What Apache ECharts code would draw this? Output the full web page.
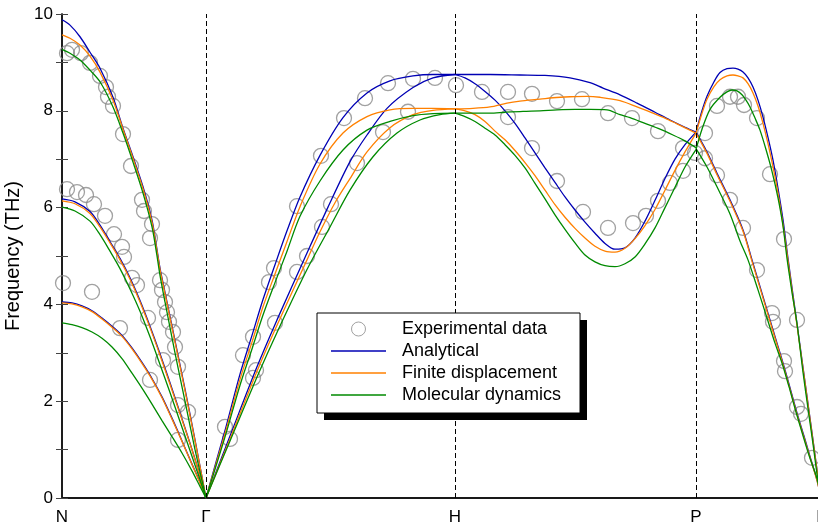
<!DOCTYPE html>
<html>
<head>
<meta charset="utf-8">
<script src="https://cdn.jsdelivr.net/npm/echarts@6/dist/echarts.min.js"></script>
<style>
  html, body { margin: 0; padding: 0; background: #fff; }
  #chart { width: 818px; height: 527px; }
</style>
</head>
<body>
<div id="chart"></div>
<script>
// path positions of the high-symmetry points and their labels
const symPoints = [0, 144, 393, 634, 759];
const symLabels = ['N', 'Γ', 'H', 'P', 'Γ'];

// experimental points [path position, THz]
const expData = [
  [5, 9.19], [10, 9.26], [19, 9.19], [28, 8.99], [38, 8.72], [44, 8.49], [46, 8.29], [51, 8.10],
  [61, 7.52], [69, 6.86], [80, 6.16], [82, 5.93], [90, 5.66], [88, 5.37],
  [5, 6.38], [15, 6.32], [24, 6.26], [32, 6.07], [43, 5.83], [52, 5.45], [60, 5.19], [62, 4.98],
  [1, 4.44], [30, 4.26], [58, 3.51], [88, 2.44], [116, 1.20], [70, 4.55], [75, 4.40], [86, 3.72],
  [101, 2.85], [116, 1.92], [126, 1.78], [98, 4.50], [100, 4.30], [103, 4.05], [105, 3.84],
  [107, 3.64], [111, 3.43], [113, 3.12], [116, 2.71],
  [163, 1.47], [168, 1.22], [181, 2.95], [191, 3.33], [191, 2.48], [194, 2.64], [207, 4.46],
  [212, 4.75], [213, 3.62], [235, 4.67], [245, 5.00], [235, 6.03], [260, 5.60], [269, 6.07],
  [259, 7.07], [282, 7.85], [295, 6.92], [321, 7.56], [346, 7.98], [303, 8.26], [326, 8.57],
  [351, 8.66], [373, 8.68], [394, 8.53],
  [420, 8.39], [446, 8.39], [470, 8.35], [495, 8.20], [520, 8.24], [446, 7.87], [470, 7.23],
  [495, 6.55], [521, 5.91], [546, 5.58], [571, 5.68], [584, 5.83], [596, 6.14], [608, 6.51],
  [621, 6.76], [546, 7.95], [570, 7.85], [596, 7.58], [621, 7.23],
  [633, 7.13], [643, 7.54], [643, 7.02], [655, 6.67], [668, 6.16], [681, 5.58], [655, 8.10],
  [668, 8.29], [676, 8.29], [682, 8.12], [695, 7.85], [708, 6.69], [722, 5.35], [695, 4.71],
  [710, 3.82], [711, 3.64], [722, 2.83], [723, 2.62], [735, 1.88], [739, 1.74], [750, 0.83], [735, 3.68]
];

// Analytical branches per segment
const anaNG = [
  [[0,9.88],[8,9.77],[18,9.53],[28,9.21],[38,8.88],[51,8.28],[61,7.64],[71,7.05],[81,6.43],[90,5.74],[95,5.13],[98,4.75],[103,4.25],[113,3.25],[123,2.25],[133,1.20],[144,0]],
  [[0,6.18],[13,6.12],[28,5.92],[38,5.64],[48,5.30],[58,4.95],[68,4.55],[78,4.08],[88,3.55],[98,2.98],[108,2.38],[118,1.76],[128,1.13],[136,0.60],[144,0]],
  [[0,4.05],[10,4.03],[20,3.97],[30,3.87],[40,3.72],[50,3.55],[60,3.36],[70,3.10],[80,2.80],[90,2.47],[100,2.09],[110,1.65],[120,1.18],[130,0.70],[138,0.32],[144,0]]
];
const anaGH = [
  [[144,0],[154,0.74],[164,1.47],[178,2.56],[190,3.36],[201,4.10],[213,4.82],[225,5.52],[238,6.22],[258,7.08],[281,7.86],[305,8.37],[328,8.62],[351,8.72],[371,8.75],[393,8.75]],
  [[144,0],[168,1.28],[195,2.71],[215,3.68],[245,5.06],[266,6.01],[288,6.95],[305,7.50],[325,8.05],[351,8.48],[371,8.68],[393,8.75]]
];
const anaHP = [
  [[393,8.75],[428,8.75],[458,8.74],[483,8.73],[508,8.68],[528,8.58],[541,8.47],[558,8.33],[575,8.16],[593,7.97],[608,7.81],[623,7.66],[634,7.56]],
  [[393,8.75],[403,8.68],[413,8.56],[423,8.40],[433,8.22],[443,8.00],[453,7.74],[463,7.44],[473,7.13],[483,6.82],[493,6.52],[503,6.22],[513,5.95],[523,5.70],[533,5.47],[543,5.26],[553,5.14],[563,5.17],[573,5.37],[583,5.72],[593,6.15],[603,6.60],[613,7.00],[623,7.30],[634,7.56]]
];
const anaPG = [
  [[634,7.56],[640,8.00],[645,8.30],[652,8.60],[658,8.79],[665,8.87],[671,8.88],[676,8.86],[681,8.80],[686,8.68],[691,8.49],[696,8.22],[701,7.87],[706,7.45],[711,6.98],[716,6.40],[721,5.75],[726,4.95],[731,4.20],[736,3.45],[741,2.70],[746,1.95],[751,1.20],[755,0.58],[759,0]],
  [[634,7.56],[645,7.15],[655,6.71],[668,6.16],[681,5.54],[690,4.92],[699,4.30],[708,3.68],[715,3.20],[721,2.79],[728,2.28],[735,1.76],[742,1.28],[748,0.86],[755,0.37],[759,0]]
];

// Finite displacement branches per segment
const finNG = [
  [[0,9.57],[8,9.50],[18,9.36],[28,9.13],[38,8.80],[51,8.22],[61,7.62],[71,7.02],[81,6.39],[90,5.70],[95,5.10],[98,4.72],[103,4.22],[113,3.22],[123,2.22],[133,1.18],[144,0]],
  [[0,6.14],[13,6.08],[28,5.88],[38,5.60],[48,5.27],[58,4.92],[68,4.52],[78,4.05],[88,3.52],[98,2.95],[108,2.35],[118,1.74],[128,1.12],[136,0.59],[144,0]],
  [[0,4.03],[10,4.01],[20,3.95],[30,3.85],[40,3.70],[50,3.53],[60,3.34],[70,3.08],[80,2.78],[90,2.45],[100,2.07],[110,1.63],[120,1.17],[130,0.69],[138,0.31],[144,0]]
];
const finGH = [
  [[144,0],[154,0.70],[164,1.40],[178,2.45],[190,3.22],[201,3.95],[213,4.63],[225,5.30],[238,6.02],[258,6.90],[281,7.54],[305,7.88],[328,8.02],[351,8.05],[371,8.05],[393,8.04]],
  [[144,0],[168,1.22],[195,2.62],[215,3.57],[245,4.92],[258,5.50],[273,6.10],[288,6.60],[305,7.15],[328,7.65],[351,7.92],[371,8.01],[393,8.04]]
];
const finHP = [
  [[393,8.04],[411,8.05],[428,8.08],[445,8.16],[458,8.20],[478,8.24],[491,8.27],[508,8.29],[525,8.30],[538,8.28],[558,8.21],[575,8.08],[591,7.95],[603,7.85],[615,7.73],[634,7.54]],
  [[393,8.04],[403,8.00],[413,7.92],[423,7.78],[433,7.58],[443,7.40],[453,7.18],[463,6.93],[473,6.66],[483,6.36],[493,6.06],[503,5.80],[513,5.57],[523,5.37],[533,5.20],[543,5.10],[553,5.08],[563,5.16],[573,5.36],[583,5.63],[593,5.96],[603,6.36],[613,6.77],[623,7.15],[634,7.54]]
];
const finPG = [
  [[634,7.54],[640,7.95],[645,8.24],[652,8.50],[658,8.64],[665,8.72],[671,8.74],[676,8.72],[681,8.68],[686,8.56],[691,8.37],[696,8.10],[701,7.74],[706,7.32],[711,6.84],[716,6.30],[721,5.65],[726,4.90],[731,4.15],[736,3.42],[741,2.68],[746,1.93],[751,1.18],[755,0.57],[759,0]],
  [[634,7.54],[645,7.12],[655,6.68],[668,6.13],[681,5.51],[690,4.89],[699,4.27],[708,3.65],[715,3.17],[721,2.76],[728,2.25],[735,1.73],[742,1.25],[748,0.84],[755,0.36],[759,0]]
];

// Molecular dynamics branches per segment
const mdNG = [
  [[0,9.27],[8,9.19],[18,9.05],[28,8.84],[38,8.60],[51,8.08],[61,7.54],[71,6.94],[81,6.30],[90,5.60],[95,5.00],[98,4.60],[103,4.05],[113,3.00],[123,2.00],[133,1.00],[144,0]],
  [[0,6.01],[13,5.93],[28,5.72],[38,5.44],[48,5.10],[58,4.74],[68,4.32],[78,3.86],[88,3.33],[98,2.76],[108,2.18],[118,1.58],[128,0.98],[136,0.50],[144,0]],
  [[0,3.62],[10,3.58],[20,3.52],[30,3.43],[40,3.30],[50,3.12],[60,2.88],[70,2.58],[80,2.27],[90,1.94],[100,1.60],[110,1.27],[120,0.93],[130,0.56],[138,0.24],[144,0]]
];
const mdGH = [
  [[144,0],[154,0.66],[164,1.33],[178,2.33],[190,3.08],[201,3.78],[213,4.45],[225,5.10],[238,5.82],[258,6.55],[281,7.19],[305,7.60],[328,7.78],[351,7.90],[371,7.94],[393,7.95]],
  [[144,0],[168,1.18],[195,2.50],[215,3.42],[245,4.72],[268,5.60],[288,6.36],[311,7.05],[335,7.54],[358,7.81],[378,7.92],[393,7.95]]
];
const mdHP = [
  [[393,7.95],[413,7.95],[428,7.95],[443,7.97],[461,7.99],[478,8.00],[495,8.02],[513,8.03],[528,8.03],[545,8.02],[558,7.92],[568,7.86],[583,7.74],[598,7.62],[611,7.50],[621,7.40],[634,7.24]],
  [[393,7.95],[403,7.88],[413,7.78],[423,7.64],[433,7.50],[443,7.30],[453,7.08],[463,6.82],[473,6.50],[483,6.18],[493,5.85],[503,5.55],[513,5.27],[523,5.02],[533,4.88],[543,4.80],[553,4.78],[563,4.84],[573,4.98],[583,5.25],[593,5.58],[603,6.00],[613,6.42],[623,6.84],[634,7.20]]
];
const mdPG = [
  [[634,7.20],[640,7.62],[648,8.03],[658,8.28],[665,8.39],[670,8.43],[675,8.41],[680,8.33],[684,8.22],[688,8.08],[693,7.85],[698,7.60],[704,7.20],[710,6.75],[716,6.20],[721,5.62],[725,4.95],[730,4.25],[735,3.60],[741,2.60],[746,1.85],[751,1.12],[755,0.50],[759,0]],
  [[634,7.22],[645,6.84],[655,6.43],[668,5.87],[678,5.31],[686,4.92],[696,4.30],[705,3.72],[713,3.20],[720,2.79],[727,2.30],[733,1.85],[742,1.22],[748,0.82],[755,0.40],[759,0]]
];

const font = 'Liberation Sans, Arial, Helvetica, sans-serif';
const chart = echarts.init(document.getElementById('chart'));

const methods = [
  { name: 'Analytical', color: '#0000b4', parts: [anaNG, anaGH, anaHP, anaPG] },
  { name: 'Finite displacement', color: '#ff8000', parts: [finNG, finGH, finHP, finPG] },
  { name: 'Molecular dynamics', color: '#008a00', parts: [mdNG, mdGH, mdHP, mdPG] }
];

const series = [{
  name: 'Experimental data',
  type: 'scatter',
  data: expData,
  symbol: 'circle',
  symbolSize: 15,
  itemStyle: { color: 'rgba(0,0,0,0)', borderColor: '#8a8a8a', borderWidth: 1.3 },
  emphasis: { disabled: true },
  z: 2,
  markLine: {
    silent: true,
    symbol: ['none', 'none'],
    label: { show: false },
    lineStyle: { color: '#000', type: [5, 3], width: 1 },
    data: symPoints.slice(1, 4).map((x) => ({ xAxis: x }))
  }
}];

methods.forEach((m) => {
  m.parts.forEach((segment) => {
    segment.forEach((branch) => {
      series.push({
        name: m.name,
        type: 'line',
        data: branch,
        smooth: 0.3,
        symbol: 'none',
        color: m.color,
        lineStyle: { color: m.color, width: 1.3 },
        emphasis: { disabled: true },
        z: 3
      });
    });
  });
});

// thin line icon for the line entries of the legend
const lineIcon = 'path://M0,0 L55,0 L55,1.3 L0,1.3 Z';

const option = {
  animation: false,
  backgroundColor: '#fff',
  textStyle: { fontFamily: font },
  grid: { left: 62, top: 14, width: 759, height: 484, outerBoundsMode: 'none', containLabel: false },
  legend: {
    orient: 'vertical',
    left: 331,
    top: 319,
    padding: 0,
    itemWidth: 55,
    itemHeight: 14,
    itemGap: 2,
    selectedMode: false,
    z: 100,
    data: [
      { name: 'Experimental data', icon: 'circle', itemStyle: { color: 'rgba(0,0,0,0)', borderColor: '#8a8a8a', borderWidth: 1 } },
      { name: 'Analytical', icon: lineIcon },
      { name: 'Finite displacement', icon: lineIcon },
      { name: 'Molecular dynamics', icon: lineIcon }
    ],
    textStyle: { fontSize: 18, fontFamily: font, color: '#000', lineHeight: 20, padding: [0, 0, 0, 11] }
  },
  graphic: [
    { type: 'rect', z: 50, shape: { x: 324, y: 320, width: 263, height: 100 }, style: { fill: '#000' } },
    { type: 'rect', z: 51, shape: { x: 317, y: 313, width: 263, height: 100 }, style: { fill: '#fff', stroke: '#000', lineWidth: 1 } }
  ],
  xAxis: [{
    type: 'value',
    min: 0,
    max: 759,
    position: 'bottom',
    axisLine: { show: true, lineStyle: { color: '#666', width: 2 } },
    axisTick: { show: false },
    splitLine: { show: false },
    axisLabel: {
      customValues: symPoints,
      formatter: (v) => symLabels[symPoints.indexOf(v)] || '',
      fontSize: 17,
      color: '#000',
      margin: 11,
      fontFamily: font
    }
  }, {
    type: 'value',
    min: 0,
    max: 759,
    position: 'top',
    axisLine: { show: true, lineStyle: { color: '#000', width: 1.5 } },
    axisTick: { show: false },
    axisLabel: { show: false },
    splitLine: { show: false }
  }],
  yAxis: [{
    type: 'value',
    min: 0,
    max: 10,
    interval: 1,
    position: 'left',
    name: 'Frequency (THz)',
    nameLocation: 'middle',
    nameGap: 31,
    nameTextStyle: { fontSize: 20, color: '#000', fontFamily: font },
    axisLine: { show: true, lineStyle: { color: '#444', width: 1.5 } },
    axisTick: { show: true, inside: true, length: 6, lineStyle: { color: '#444' } },
    splitLine: { show: false },
    axisLabel: {
      formatter: (v) => (v % 2 === 0 ? String(v) : ''),
      fontSize: 17,
      color: '#000',
      margin: 9,
      fontFamily: font
    }
  }, {
    type: 'value',
    min: 0,
    max: 10,
    interval: 1,
    position: 'right',
    axisLine: { show: true, lineStyle: { color: '#000', width: 1.5 } },
    axisTick: { show: true, inside: true, length: 6, lineStyle: { color: '#444' } },
    axisLabel: { show: false },
    splitLine: { show: false }
  }],
  series: series
};

chart.setOption(option);
</script>
</body>
</html>
